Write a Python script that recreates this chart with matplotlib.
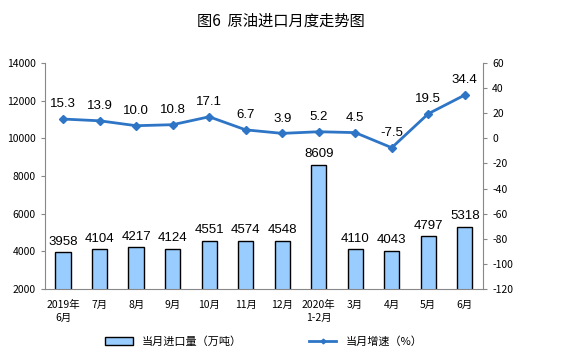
import matplotlib.pyplot as plt

plt.rcParams['font.family'] = ['Noto Sans CJK SC', 'DejaVu Sans']
plt.rcParams['axes.unicode_minus'] = False

months = ['2019年\n6月', '7月', '8月', '9月', '10月', '11月', '12月',
          '2020年\n1-2月', '3月', '4月', '5月', '6月']
imports = [3958, 4104, 4217, 4124, 4551, 4574, 4548, 8609, 4110, 4043, 4797, 5318]
growth = [15.3, 13.9, 10.0, 10.8, 17.1, 6.7, 3.9, 5.2, 4.5, -7.5, 19.5, 34.4]

fig = plt.figure(figsize=(5.61, 3.57), dpi=100)
ax = fig.add_axes([0.080, 0.190, 0.781, 0.634])
x = list(range(len(months)))

ax.bar(x, imports, width=0.42, color='#99ccff', edgecolor='black',
       linewidth=1.0, label='当月进口量（万吨）', zorder=2)
for xi, v in zip(x, imports):
    ax.text(xi, v + 250, str(v), ha='center', va='bottom', fontsize=9.5,
            family=['Liberation Sans', 'DejaVu Sans'])

ax.set_ylim(2000, 14000)
ax.set_yticks(range(2000, 14001, 2000))
ax.set_xlim(-0.5, 11.5)
ax.set_xticks(x)
ax.set_xticklabels(months, fontsize=7.5, linespacing=1.3)
ax.tick_params(axis='y', labelsize=7.5, length=3, color='#888888')
ax.tick_params(axis='x', length=0, pad=8)
for s in ['top', 'right']:
    ax.spines[s].set_visible(False)
ax.spines['left'].set_color('#888888')
ax.spines['bottom'].set_color('#888888')

ax2 = ax.twinx()
ax2.plot(x, growth, color='#2e75c6', linewidth=2, marker='D', markersize=4,
         label='当月增速（%）', zorder=3)
for xi, v in zip(x, growth):
    ax2.text(xi, v + 7, f'{v:.1f}', ha='center', va='bottom', fontsize=9.5,
             family=['Liberation Sans', 'DejaVu Sans'])
ax2.set_ylim(-120, 60)
ax2.set_yticks(range(-120, 61, 20))
ax2.tick_params(axis='y', labelsize=7.5, length=3, color='#888888')
for s in ['top', 'left', 'bottom']:
    ax2.spines[s].set_visible(False)
ax2.spines['right'].set_color('#888888')

h1, l1 = ax.get_legend_handles_labels()
h2, l2 = ax2.get_legend_handles_labels()
fig.legend(h1 + h2, l1 + l2, loc='lower center', ncol=2, frameon=False,
           fontsize=8, bbox_to_anchor=(0.47, 0.0), columnspacing=6,
           handlelength=2.5, handleheight=0.8, markerscale=0.6)

fig.suptitle('图6  原油进口月度走势图', fontsize=11, y=0.965)

fig.savefig('out.png', dpi=100)
